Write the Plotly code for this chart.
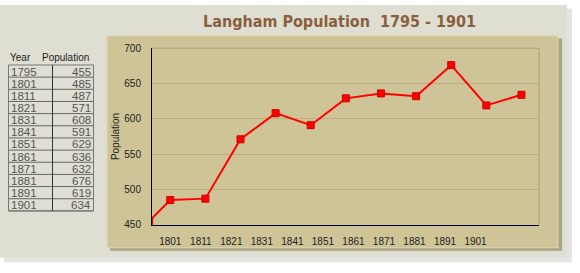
import plotly.graph_objects as go

years = [1795, 1801, 1811, 1821, 1831, 1841, 1851, 1861, 1871, 1881, 1891, 1901]
population = [455, 485, 487, 571, 608, 591, 629, 636, 632, 676, 619, 634]
tick_years = [1801, 1811, 1821, 1831, 1841, 1851, 1861, 1871, 1881, 1891, 1901]
y_ticks = [450, 500, 550, 600, 650, 700]
table_headers = ["Year", "Population"]

W, H = 580, 273
def px(x): return x / W
def py(y): return 1 - y / H

FONT = "Liberation Sans, Arial"

fig = go.Figure()

fig.add_trace(go.Scatter(
    x=years, y=population, mode="lines+markers",
    line=dict(color="#ff0000", width=2),
    marker=dict(symbol="square", size=7, color="#ff0000", line=dict(color="#d00000", width=1)),
    xaxis="x", yaxis="y", showlegend=False, cliponaxis=True,
))
fig.add_trace(go.Scatter(x=[tick_years[0]], y=[population[0]], mode="markers",
                         marker=dict(opacity=0), xaxis="x2", yaxis="y", showlegend=False,
                         hoverinfo="skip"))

shapes = []
annotations = []
shapes.append(dict(type="rect", xref="paper", yref="paper", x0=px(4), x1=px(572), y0=py(268), y1=py(4),
                   fillcolor="#e4e4e4", line=dict(width=0), layer="below"))
shapes.append(dict(type="rect", xref="paper", yref="paper", x0=px(0), x1=px(567), y0=py(263), y1=py(0),
                   fillcolor="#dfded2", line=dict(width=0), layer="below"))
shapes.append(dict(type="rect", xref="paper", yref="paper", x0=px(110), x1=px(562), y0=py(256), y1=py(35),
                   fillcolor="#a8a382", line=dict(width=0), layer="below"))
shapes.append(dict(type="rect", xref="paper", yref="paper", x0=px(107), x1=px(558), y0=py(253), y1=py(32),
                   fillcolor="#cfc497", line=dict(color="#e2d9b4", width=1), layer="below"))
shapes.append(dict(type="line", xref="paper", yref="paper", x0=px(152), x1=px(539), y0=py(45), y1=py(45),
                   line=dict(color="#a89e7a", width=1), layer="below"))
shapes.append(dict(type="line", xref="paper", yref="paper", x0=px(539), x1=px(539), y0=py(45), y1=py(229),
                   line=dict(color="#a89e7a", width=1), layer="below"))

# data table drawn from the lists
tx0, tx1, tdiv = 8.5, 93.5, 52.5
ty0 = 62.5
rh = 12.67
nrows = len(years)
ty1 = ty0 + rh * nrows
annotations.append(dict(text=table_headers[0], xref="paper", yref="paper", x=px(8), y=py(55),
                        xanchor="left", yanchor="middle", showarrow=False,
                        font=dict(family=FONT, size=10, color="#222")))
annotations.append(dict(text=table_headers[1], xref="paper", yref="paper", x=px(91), y=py(55),
                        xanchor="right", yanchor="middle", showarrow=False,
                        font=dict(family=FONT, size=10, color="#222")))
for i, (yr, pop) in enumerate(zip(years, population)):
    yc = ty0 + rh * (i + 0.5)
    annotations.append(dict(text=str(yr), xref="paper", yref="paper", x=px(9), y=py(yc + 0.5),
                            xanchor="left", yanchor="middle", showarrow=False,
                            font=dict(family=FONT, size=11.5, color="#555")))
    annotations.append(dict(text=str(pop), xref="paper", yref="paper", x=px(93), y=py(yc + 0.5),
                            xanchor="right", yanchor="middle", showarrow=False,
                            font=dict(family=FONT, size=11.5, color="#555")))
    ly = ty0 + rh * (i + 1)
    shapes.append(dict(type="line", xref="paper", yref="paper", x0=px(tx0), x1=px(tx1), y0=py(ly), y1=py(ly),
                       line=dict(color="#666", width=1)))
shapes.append(dict(type="rect", xref="paper", yref="paper", x0=px(tx0), x1=px(tx1), y0=py(ty1), y1=py(ty0),
                   line=dict(color="#777", width=1)))
shapes.append(dict(type="line", xref="paper", yref="paper", x0=px(tdiv), x1=px(tdiv), y0=py(ty1), y1=py(ty0),
                   line=dict(color="#333", width=1)))

annotations.append(dict(text="Langham Population  1795 - 1901", xref="paper", yref="paper",
                        x=px(340), y=py(17), xanchor="center", yanchor="middle", showarrow=False,
                        font=dict(family="DejaVu Sans Condensed, DejaVu Sans", size=16,
                                  color="#8b5e3e", weight="bold")))

fig.update_layout(
    width=W, height=H,
    margin=dict(l=0, r=0, t=0, b=0),
    paper_bgcolor="white", plot_bgcolor="rgba(0,0,0,0)",
    shapes=shapes, annotations=annotations,
    xaxis=dict(domain=[px(152), px(539)], range=[1795.8, 1906], showticklabels=False,
               showgrid=False, zeroline=False, ticks="", anchor="y",
               showline=True, linecolor="#000", linewidth=1),
    xaxis2=dict(domain=[px(152), px(539)], range=[1795, 1921.8], overlaying="x", anchor="y",
                side="bottom", tickvals=tick_years, ticktext=[str(t) for t in tick_years],
                showgrid=False, zeroline=False, ticks="", showline=False,
                ticklabelstandoff=9,
                tickfont=dict(family=FONT, size=10, color="#222")),
    yaxis=dict(domain=[py(229), py(45)], range=[450, 700], tickvals=y_ticks,
               showgrid=True, gridcolor="#b8ad86", gridwidth=1, zeroline=False,
               showline=True, linecolor="#000", linewidth=1, ticks="",
               ticklabelstandoff=8,
               tickfont=dict(family=FONT, size=10, color="#222"),
               title=dict(text="Population", standoff=2,
                          font=dict(family=FONT, size=10, color="#222"))),
)

fig.write_html("out.html")
